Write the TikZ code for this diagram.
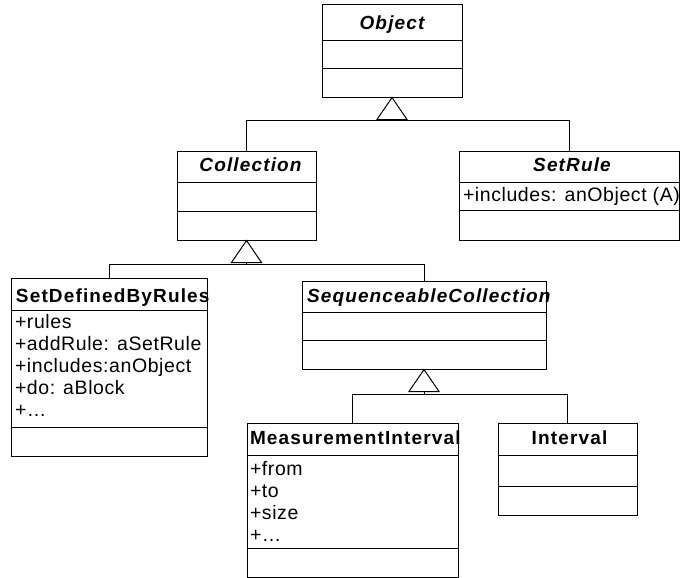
\documentclass[tikz,border=0pt]{standalone}
\usepackage{fontspec}
\setmainfont{Liberation Sans}
\newfontfamily\headfont[LetterSpace=6]{Liberation Sans}
\newfontfamily\attrfont[LetterSpace=3]{Liberation Sans}

\begin{document}
\begin{tikzpicture}[x=1pt,y=-1pt,line width=1pt,
    class/.style={rectangle,draw,inner sep=0pt},
    head/.style={inner sep=0pt,font=\headfont\fontsize{19}{22}\selectfont\bfseries},
    attr/.style={inner sep=0pt,anchor=base west,font=\attrfont\fontsize{19.5}{22}\selectfont},
    gen/.style={fill=white,line join=miter}]

    \useasboundingbox (0,0) rectangle (680,578);
    \clip (0,0) rectangle (680,578);

    % class boxes
    \node (1) at (392,51) [class, minimum width=140pt, minimum height=92pt]{};
    \node (2) at (246.5,195.5) [class, minimum width=139pt, minimum height=89pt]{};
    \node (3) at (569,195.5) [class, minimum width=220pt, minimum height=89pt]{};
    \node (4) at (109,367) [class, minimum width=196pt, minimum height=178pt]{};
    \node (5) at (424,325) [class, minimum width=244pt, minimum height=88pt]{};
    \node (6) at (352.5,500) [class, minimum width=211pt, minimum height=154pt]{};
    \node (7) at (567.5,469) [class, minimum width=139pt, minimum height=92pt]{};

    % compartments
    \foreach \n/\off in {1/36,1/64,2/32,2/61,3/32,3/60,4/33,4/150,5/32,5/60,6/33,6/126,7/33,7/64}
        \draw ([yshift=-\off pt]\n.north west) -- ([yshift=-\off pt]\n.north east);

    % names
    \node (1t) [head, anchor=base] at ([yshift=-25pt]1.north) {\itshape Object};
    \node (2t) [head, anchor=base] at ([xshift=4pt,yshift=-21pt]2.north) {\itshape Collection};
    \node (3t) [head, anchor=base] at ([xshift=3pt,yshift=-21pt]3.north) {\itshape SetRule};
    \node (4t) [head, anchor=base west] at ([xshift=5pt,yshift=-25pt]4.north west) {SetDefinedByRules};
    \node (5t) [head, anchor=base west] at ([xshift=5pt,yshift=-22pt]5.north west) {\itshape SequenceableCollection};
    \node (6t) [head, anchor=base west] at ([xshift=3pt,yshift=-22pt]6.north west) {MeasurementInterval};
    \node (7t) [head, anchor=base] at ([xshift=2pt,yshift=-22pt]7.north) {Interval};

    % attributes
    \node (3a) [attr] at ([xshift=4pt,yshift=-51pt]3.north west) {+includes: anObject (A)};
    \foreach \t [count=\i] in {+rules,+addRule: aSetRule,+includes:anObject,+do: aBlock,+…}
        \node (4a\i) [attr] at ([xshift=4pt,yshift={-29pt-22pt*\i}]4.north west) {\t};
    \foreach \t [count=\i] in {+from,+to,+size,+…}
        \node (6a\i) [attr] at ([xshift=3pt,yshift={-31pt-22pt*\i}]6.north west) {\t};

    % generalisations
    \coordinate (g1) at ([yshift=-23pt]1.south);
    \coordinate (g2) at ([yshift=-24pt]2.south);
    \coordinate (g5) at ([yshift=-25pt]5.south);

    \draw (2.north) |- (g1) -| (3.north);
    \draw (4.north) |- (g2) -| (5.north);
    \draw (6.north) |- (g5) -| (7.north);

    \foreach \n in {1,2,5}{
        \draw (\n.south) ++(0,22) -- (g\n);
        \draw[gen] (\n.south) -- ++(-15,22) -- ++(30,0) -- cycle;
    }
\end{tikzpicture}
\end{document}
